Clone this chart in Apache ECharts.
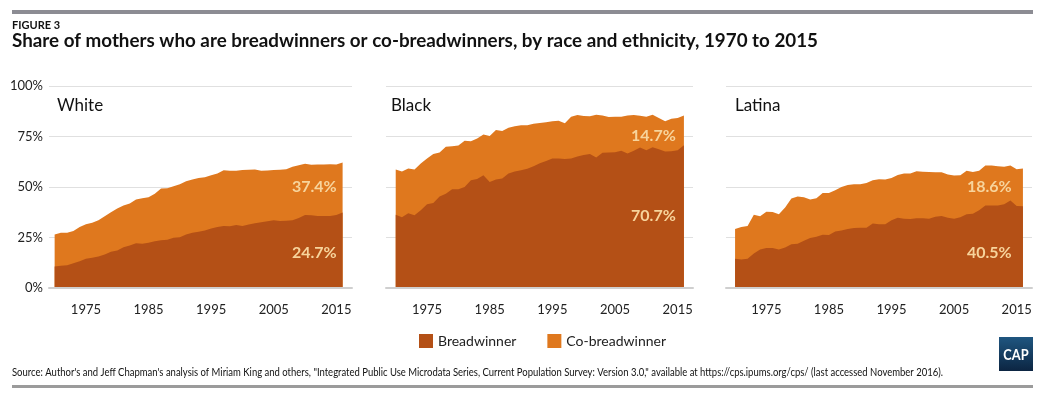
<!DOCTYPE html>
<html>
<head>
<meta charset="utf-8">
<script src="https://cdn.jsdelivr.net/npm/echarts@6/dist/echarts.min.js"></script>
<style>
  html, body { margin: 0; padding: 0; background: #fff; }
  #chart { width: 1041px; height: 398px; }
</style>
</head>
<body>
<div id="chart"></div>
<script>
// data (percent of mothers)
const years = [1970, 1971, 1972, 1973, 1974, 1975, 1976, 1977, 1978, 1979,
  1980, 1981, 1982, 1983, 1984, 1985, 1986, 1987, 1988, 1989,
  1990, 1991, 1992, 1993, 1994, 1995, 1996, 1997, 1998, 1999,
  2000, 2001, 2002, 2003, 2004, 2005, 2006, 2007, 2008, 2009,
  2010, 2011, 2012, 2013, 2014, 2015, 2016]

const whiteBreadwinner = [10.7, 11.0, 11.3, 12.2, 13.3, 14.5, 15.0, 15.6, 16.6, 18.0,
  18.6, 20.2, 21.1, 22.2, 21.9, 22.4, 23.1, 23.6, 23.9, 24.9,
  25.1, 26.5, 27.3, 27.8, 28.5, 29.5, 30.2, 30.7, 30.6, 31.2,
  30.7, 31.4, 32.0, 32.5, 33.0, 33.5, 33.2, 33.3, 33.5, 34.7,
  36.2, 36.0, 35.7, 35.6, 35.7, 36.2, 37.4]
const whiteCoBreadwinner = [15.8, 16.3, 16.1, 16.0, 16.9, 17.0, 17.3, 17.9, 18.9, 19.5,
  20.7, 20.6, 20.7, 21.6, 22.5, 22.5, 23.6, 25.6, 25.5, 25.5,
  26.3, 26.4, 26.4, 26.7, 26.3, 26.3, 26.5, 27.6, 27.4, 26.9,
  27.7, 27.2, 26.7, 25.5, 25.2, 24.9, 25.4, 25.5, 26.5, 26.1,
  25.3, 25.0, 25.5, 25.6, 25.6, 25.0, 24.7]

const blackBreadwinner = [36.3, 35.0, 37.0, 36.0, 38.5, 41.4, 42.1, 45.3, 46.7, 48.9,
  48.9, 50.0, 53.3, 54.0, 55.8, 52.5, 53.7, 54.2, 56.7, 57.7,
  58.3, 59.0, 60.3, 61.7, 62.9, 64.1, 64.1, 63.8, 64.1, 65.1,
  65.9, 66.3, 64.6, 66.9, 67.1, 67.2, 67.9, 66.6, 67.9, 69.6,
  68.2, 69.7, 68.7, 67.6, 67.7, 68.2, 70.7]
const blackCoBreadwinner = [22.4, 22.7, 22.2, 22.7, 23.1, 22.7, 24.2, 21.8, 23.2, 21.3,
  21.7, 22.9, 19.3, 20.0, 20.2, 22.8, 24.5, 23.5, 22.6, 22.4,
  22.3, 21.6, 21.0, 20.0, 19.2, 18.4, 18.7, 17.7, 20.7, 20.5,
  19.2, 18.7, 21.2, 18.5, 17.5, 17.6, 16.9, 18.8, 17.7, 15.7,
  16.6, 16.1, 15.4, 15.0, 16.1, 15.9, 14.7]

const latinaBreadwinner = [14.5, 14.1, 14.5, 17.1, 19.0, 19.8, 19.8, 19.0, 20.0, 21.6,
  21.9, 23.4, 24.7, 25.4, 26.4, 26.2, 28.0, 28.5, 29.2, 29.7,
  29.8, 29.8, 31.9, 31.6, 31.5, 33.5, 34.8, 34.3, 34.2, 34.5,
  34.5, 34.3, 35.3, 35.6, 34.8, 34.3, 35.0, 36.5, 36.8, 38.5,
  40.9, 40.9, 40.9, 41.4, 43.3, 40.6, 40.5]
const latinaCoBreadwinner = [14.7, 16.1, 16.2, 19.2, 16.5, 18.0, 17.8, 17.5, 19.8, 22.7,
  23.4, 21.5, 19.1, 19.0, 20.6, 20.8, 20.4, 21.5, 21.8, 21.7,
  21.6, 22.2, 21.4, 22.2, 22.2, 21.0, 21.2, 22.4, 22.5, 23.3,
  23.1, 23.1, 22.0, 21.7, 21.4, 21.4, 20.8, 21.5, 20.6, 19.5,
  19.7, 19.7, 19.4, 18.6, 17.3, 18.2, 18.6]

const whiteLabels = ['37.4%', '24.7%']
const blackLabels = ['14.7%', '70.7%']
const latinaLabels = ['18.6%', '40.5%']

const xLabelYears = [1975, 1985, 1995, 2005, 2015]

const BW = '#b45016'
const CO = '#df781e'
const FONT = 'Lato, "Open Sans", sans-serif'

const TITLE = 'Share of mothers who are breadwinners or co-breadwinners, by race and ethnicity, 1970 to 2015'
const SOURCE = 'Source: Author\'s and Jeff Chapman\'s analysis of Miriam King and others, "Integrated Public Use Microdata Series, Current Population Survey: Version 3.0," available at https://cps.ipums.org/cps/ (last accessed November 2016).'

// squeeze a text line to the width it has in the original figure
const ctx = document.createElement('canvas').getContext('2d')
function fitScale(text, font, target) {
  ctx.font = font
  return target / ctx.measureText(text).width
}

const panels = [
  { name: 'White', bw: whiteBreadwinner, co: whiteCoBreadwinner, labels: whiteLabels },
  { name: 'Black', bw: blackBreadwinner, co: blackCoBreadwinner, labels: blackLabels },
  { name: 'Latina', bw: latinaBreadwinner, co: latinaCoBreadwinner, labels: latinaLabels },
]

// where each small multiple sits
const layout = [
  { left: 49, width: 303, min: 1969.1, max: 2017.5, labelX: 2015.05, labelY: [50, 17.3], titleX: 57 },
  { left: 386, width: 307, min: 1968.45, max: 2017.45, labelX: 2014.7, labelY: [75.2, 35.6], titleX: 391 },
  { left: 726, width: 306, min: 1968.55, max: 2017.45, labelX: 2014.2, labelY: [49.9, 17.6], titleX: 735 },
]

const grid = []
const xAxis = []
const yAxis = []
const series = []
const graphic = []

panels.forEach((p, i) => {
  const l = layout[i]
  grid.push({ left: l.left, width: l.width, top: 86, height: 202 })
  xAxis.push({
    type: 'value',
    gridIndex: i,
    min: l.min,
    max: l.max,
    z: 3,
    splitLine: { show: false },
    axisTick: { show: false },
    axisLine: { show: true, onZero: false, lineStyle: { color: '#cfcfcf', width: 2 } },
    axisLabel: {
      customValues: xLabelYears,
      formatter: (v) => String(v),
      color: '#222',
      fontSize: 13,
      fontFamily: FONT,
      margin: 15,
    },
  })
  yAxis.push({
    type: 'value',
    gridIndex: i,
    min: 0,
    max: 100,
    interval: 25,
    z: 3,
    axisLine: { show: false },
    axisTick: { show: false },
    splitLine: { lineStyle: { color: 'rgba(0,0,0,0.12)', width: 1 } },
    axisLabel: {
      show: i === 0,
      formatter: '{value}%',
      color: '#222',
      fontSize: 13,
      fontFamily: FONT,
      margin: 6,
    },
  })
  series.push({
    name: 'Co-breadwinner',
    type: 'line',
    xAxisIndex: i,
    yAxisIndex: i,
    symbol: 'none',
    silent: true,
    color: CO,
    lineStyle: { width: 0, color: CO },
    itemStyle: { color: CO },
    areaStyle: { color: CO, opacity: 1 },
    data: years.map((y, k) => [y, +(p.bw[k] + p.co[k]).toFixed(1)]),
  })
  series.push({
    name: 'Breadwinner',
    type: 'line',
    xAxisIndex: i,
    yAxisIndex: i,
    symbol: 'none',
    silent: true,
    color: BW,
    lineStyle: { width: 0, color: BW },
    itemStyle: { color: BW },
    areaStyle: { color: BW, opacity: 1 },
    data: years.map((y, k) => [y, p.bw[k]]),
    markPoint: {
      symbol: 'circle',
      symbolSize: 0,
      silent: true,
      label: {
        show: true,
        position: 'left',
        distance: 0,
        color: '#f7d49c',
        fontSize: 16,
        fontWeight: 'bold',
        fontFamily: FONT,
      },
      data: p.labels.map((t, k) => ({
        coord: [l.labelX, l.labelY[k]],
        label: { formatter: t },
      })),
    },
  })
  graphic.push({
    type: 'text',
    x: l.titleX,
    y: 106,
    style: { text: p.name, fontSize: 17, fontFamily: FONT, fill: '#111', textVerticalAlign: 'middle', verticalAlign: 'middle' },
  })
})

graphic.push(
  { type: 'rect', shape: { x: 12, y: 10, width: 1021, height: 4 }, style: { fill: '#8c8c93' } },
  {
    type: 'text', x: 12, y: 25,
    style: { text: 'FIGURE 3', fontSize: 11, fontWeight: 'bold', fontFamily: FONT, fill: '#111', textVerticalAlign: 'middle', verticalAlign: 'middle' },
  },
  {
    type: 'text', x: 12, y: 41,
    scaleX: fitScale(TITLE, 'bold 19px Lato', 806),
    style: {
      text: TITLE,
      fontSize: 19, fontWeight: 'bold', fontFamily: FONT, fill: '#111', textVerticalAlign: 'middle', verticalAlign: 'middle',
    },
  },
  {
    type: 'text', x: 12, y: 372,
    scaleX: fitScale(SOURCE, '11px Lato', 931),
    style: {
      text: SOURCE,
      fontSize: 11, fontFamily: FONT, fill: '#111', textVerticalAlign: 'middle', verticalAlign: 'middle',
    },
  },
  { type: 'rect', shape: { x: 12, y: 385, width: 1021, height: 3 }, style: { fill: '#9b9b9b' } },
  {
    type: 'rect', shape: { x: 999, y: 337, width: 34, height: 34 },
    style: {
      fill: new echarts.graphic.LinearGradient(0, 0, 0, 1, [
        { offset: 0, color: '#1f5680' },
        { offset: 1, color: '#0c2542' },
      ]),
    },
  },
  {
    type: 'text', x: 1016, y: 355,
    scaleX: 0.8,
    style: { text: 'CAP', fontSize: 16, fontWeight: 'bold', fontFamily: FONT, fill: '#fff', textAlign: 'center', align: 'center', textVerticalAlign: 'middle', verticalAlign: 'middle' },
  }
)

const chart = echarts.init(document.getElementById('chart'))
chart.setOption({
  animation: false,
  backgroundColor: '#fff',
  grid,
  xAxis,
  yAxis,
  series,
  graphic,
  legend: {
    data: ['Breadwinner', 'Co-breadwinner'],
    left: 419,
    top: 334,
    padding: 0,
    icon: 'rect',
    itemWidth: 14,
    itemHeight: 14,
    itemGap: 31,
    selectedMode: false,
    textStyle: { fontSize: 14, fontFamily: FONT, color: '#222' },
  },
})

window.addEventListener('resize', () => chart.resize())
</script>
</body>
</html>
